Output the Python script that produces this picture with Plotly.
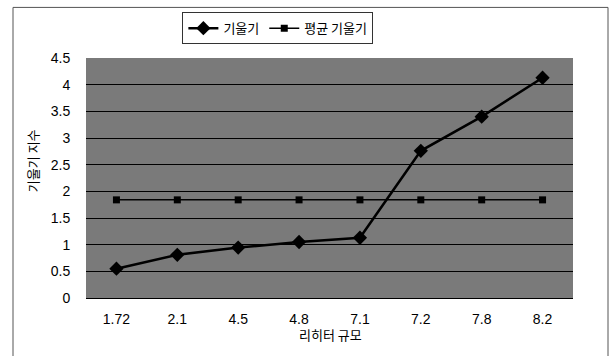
import plotly.graph_objects as go

categories = ["1.72", "2.1", "4.5", "4.8", "7.1", "7.2", "7.8", "8.2"]
slope = [0.55, 0.81, 0.945, 1.05, 1.13, 2.76, 3.40, 4.13]
mean_slope = [1.84, 1.84, 1.84, 1.84, 1.84, 1.84, 1.84, 1.84]
y_ticks = [0, 0.5, 1, 1.5, 2, 2.5, 3, 3.5, 4, 4.5]
y_tick_text = ["0", "0.5", "1", "1.5", "2", "2.5", "3", "3.5", "4", "4.5"]
series_names = ["기울기", "평균 기울기"]
x_title = "리히터 규모"
y_title = "기울기 지수"

KR = "Noto Sans CJK KR, sans-serif"
NUM = "Liberation Sans, Arial, sans-serif"

fig = go.Figure()
fig.add_trace(go.Scatter(
    x=categories, y=slope, name=series_names[0], mode="lines+markers",
    line=dict(color="black", width=2.5),
    marker=dict(symbol="diamond", size=11, color="black"),
))
fig.add_trace(go.Scatter(
    x=categories, y=mean_slope, name=series_names[1], mode="lines+markers",
    line=dict(color="black", width=1.5),
    marker=dict(symbol="square", size=7, color="black"),
))

fig.update_layout(
    width=610, height=356,
    margin=dict(l=86, r=37, t=56, b=58),
    paper_bgcolor="white",
    plot_bgcolor="#7a7a7a",
    showlegend=True,
    legend=dict(
        orientation="h", x=0.394, y=1.124, xanchor="center", yanchor="middle",
        bordercolor="#333333", borderwidth=1, bgcolor="white",
        font=dict(family=KR, size=13, color="black"),
        itemwidth=30, tracegroupgap=0,
    ),
    xaxis=dict(
        type="category", showgrid=False, zeroline=False,
        showline=True, linecolor="black", linewidth=1,
        ticks="outside", ticklen=8, tickcolor="rgba(0,0,0,0)",
        tickfont=dict(family=NUM, size=14, color="black"),
        range=[-0.5, len(categories) - 0.5],
    ),
    yaxis=dict(
        range=[0, 4.5], tickvals=y_ticks, ticktext=y_tick_text,
        showgrid=True, gridcolor="black", gridwidth=1,
        zeroline=False, showline=False,
        ticks="outside", ticklen=12, tickcolor="rgba(0,0,0,0)",
        tickfont=dict(family=NUM, size=14, color="black"),
    ),
    annotations=[
        dict(text=x_title, xref="paper", yref="paper", x=(330 - 86) / 487, y=(298 - 335) / 242,
             xanchor="center", yanchor="middle", showarrow=False,
             font=dict(family=KR, size=13, color="black")),
        dict(text=y_title, xref="paper", yref="paper", x=(32 - 86) / 487, y=(298 - 160) / 242,
             xanchor="center", yanchor="middle", showarrow=False, textangle=-90,
             font=dict(family=KR, size=13, color="black")),
    ],
    shapes=[
        dict(type="rect", xref="paper", yref="paper",
             x0=(13 - 86) / 487, x1=(608 - 86) / 487,
             y0=(298 - 370) / 242, y1=(298 - 5) / 242,
             line=dict(color="#555555", width=1), layer="below"),
    ],
)

fig.write_html("out.html")
